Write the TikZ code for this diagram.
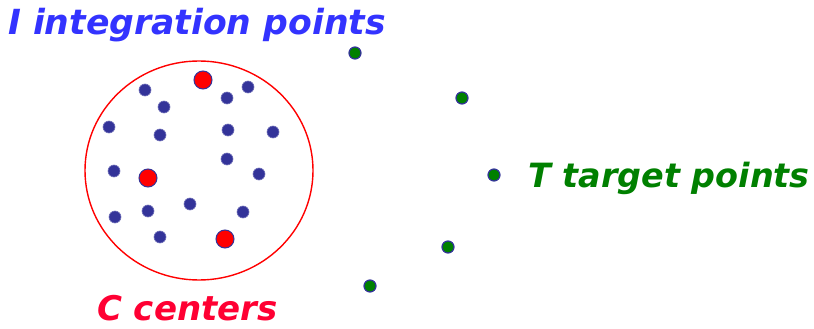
\documentclass[tikz,border=0pt]{standalone}
\usepackage{fontspec}
\setmainfont{DejaVu Sans}
\usetikzlibrary{shapes.geometric}
\definecolor{ibl}{RGB}{51,51,255}
\definecolor{dotbl}{RGB}{51,51,153}
\definecolor{tgreen}{RGB}{0,128,0}
\definecolor{cred}{RGB}{255,0,51}
\tikzset{
  ipt/.style={circle,fill=dotbl,draw=dotbl!70!white,line width=0.6pt,minimum size=12pt,inner sep=0pt},
  cpt/.style={circle,fill=red,draw=dotbl,line width=1pt,minimum size=18pt,inner sep=0pt},
  tpt/.style={circle,fill=tgreen,draw=dotbl,line width=1.2pt,minimum size=12pt,inner sep=0pt},
  lbl/.style={anchor=base west,inner sep=0pt},
  lfont/.style={font=\fontsize{#1}{40}\selectfont\bfseries\itshape},
}
\begin{document}
\begin{tikzpicture}[x=1pt,y=-1pt]
\useasboundingbox (0,0) rectangle (814,329);
\node[ellipse,draw=red,line width=1.4pt,minimum width=228pt,minimum height=219pt,inner sep=0pt] (reg) at (199,170.5) {};
% integration points
\foreach \n/\x/\y in {a/145/90,b/164/107,c/227/98,d/248/87,e/109/127,f/160/135,g/228/130,h/273/132,i/227/159,j/114/171,k/259/174,l/190/204,m/148/211,n/115/217,o/243/212,p/160/237}
  \node[ipt] (i\n) at (\x,\y) {};
% centers
\node[cpt] (c1) at (203,80) {};
\node[cpt] (c2) at (148,178) {};
\node[cpt] (c3) at (225,239) {};
% targets
\node[tpt] (t1) at (355,53) {};
\node[tpt] (t2) at (462,98) {};
\node[tpt] (t3) at (494,175) {};
\node[tpt] (t4) at (448,247) {};
\node[tpt] (t5) at (370,286) {};
% labels
\node[lbl,lfont=34.6,text=ibl] (ilab) at (8,35) {I integration points};
\node[lbl,lfont=33.4,text=tgreen] (tlab) at (528,187) {T target points};
\node[lbl,lfont=34,text=cred] (clab) at (97,320) {C centers};
\end{tikzpicture}
\end{document}
